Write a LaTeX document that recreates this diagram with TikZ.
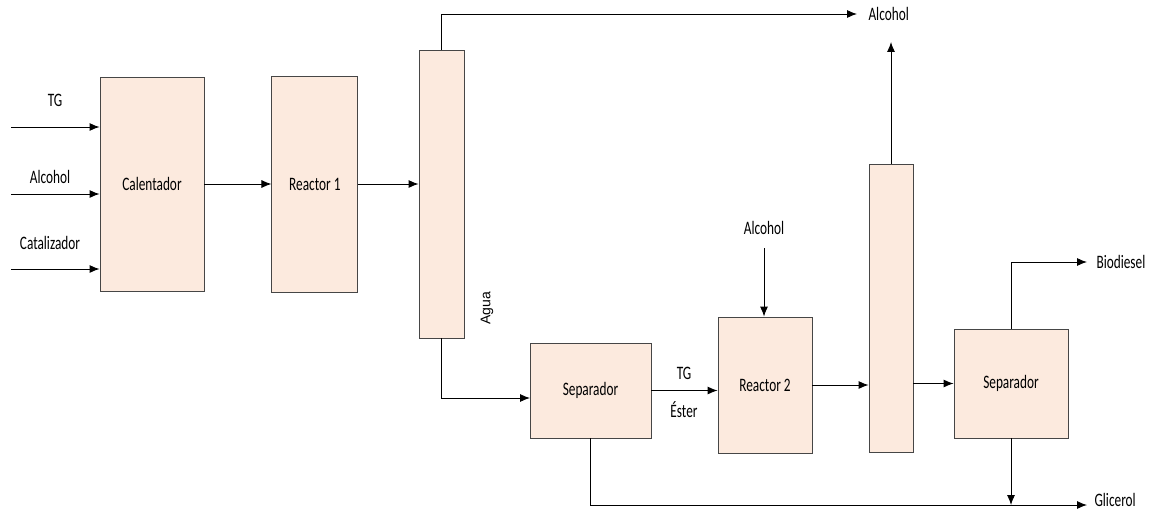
\documentclass[tikz,border=0pt]{standalone}
\usepackage{fontspec}
\setmainfont{Carlito}[FakeStretch=0.7]
\newfontfamily\aguafont{Liberation Sans}
\usepackage{tikz}
\usetikzlibrary{arrows.meta,positioning}
\definecolor{unitfill}{RGB}{252,234,222}
\definecolor{unitline}{RGB}{70,70,70}

\begin{document}
\begin{tikzpicture}[x=1pt, y=-1pt, font=\fontsize{19}{22}\selectfont,
    unit/.style={draw=unitline, fill=unitfill, rectangle, inner sep=0pt, line width=0.9pt},
    flow/.style={-{Latex[length=10pt,width=8pt]}, line width=0.9pt}]
                    \useasboundingbox (0,0) rectangle (1155,511);
                    % units
                    \node[unit, minimum width=104pt, minimum height=214pt] (calentador) at (152,184) {Calentador};
                    \node[unit, minimum width=86pt, minimum height=216pt, right=67pt of calentador] (reactor1) {Reactor 1};
                    \node[unit, minimum width=45pt, minimum height=288pt] (columna1) at (441.5,194) {};
                    \node[unit, minimum width=121pt, minimum height=95pt] (separador1) at (590.5,390.5) {Separador};
                    \node[unit, minimum width=94pt, minimum height=136pt] (reactor2) at (765,385) {Reactor 2};
                    \node[unit, minimum width=44pt, minimum height=288pt] (columna2) at (891,308) {};
                    \node[unit, minimum width=114pt, minimum height=109pt] (separador2) at (1011,383.5) {Separador};
                    
                    % feeds
                    \coordinate (inTG) at (11,127);
                    \coordinate (inAlc) at (11,194);
                    \coordinate (inCat) at (11,269);
                    \node (lblTG) at (55,100) {TG};
                    \node (lblAlc) at (50,177) {Alcohol};
                    \node (lblCat) at (50,243) {Catalizador};
                    \draw[flow] (inTG) -- (inTG -| calentador.west);
                    \draw[flow] (inAlc) -- (inAlc -| calentador.west);
                    \draw[flow] (inCat) -- (inCat -| calentador.west);
                    
                    \draw[flow] (calentador.east) -- (reactor1.west);
                    \draw[flow] (reactor1.east) -- (reactor1.east -| columna1.west);
                    
                    % column 1
                    \coordinate (alcTop) at (857,14);
                    \node[right=8pt of alcTop] (lblAlcTop) {Alcohol};
                    \draw[flow] (columna1.north) |- (alcTop);
                    \coordinate (sepIn) at (530,398);
                    \draw[flow] (columna1.south) |- (sepIn);
                    \node[rotate=90, font=\aguafont\fontsize{14}{16}\selectfont] (agua) at (487,308) {Agua};
                    
                    % second stage
                    \node (lblTGb) at (684,373) {TG};
                    \node (lblEster) at (684,410) {Éster};
                    \draw[flow] (separador1.east) -- (separador1.east -| reactor2.west);
                    \coordinate (alcIn) at (764,248);
                    \node (lblAlcIn) at (764,228) {Alcohol};
                    \draw[flow] (alcIn) -- (alcIn |- reactor2.north);
                    \draw[flow] (reactor2.east) -- (reactor2.east -| columna2.west);
                    \coordinate (alcOut) at (891,42);
                    \draw[flow] (columna2.north) -- (alcOut);
                    \draw[flow] (columna2.east |- separador2.west) -- (separador2.west);
                    
                    % products
                    \coordinate (bio) at (1087,262);
                    \node[right=6pt of bio] (lblBio) {Biodiesel};
                    \draw[flow] (separador2.north) |- (bio);
                    \coordinate (glic) at (1087,505);
                    \node[right=4pt of glic, yshift=5pt] (lblGlic) {Glicerol};
                    \draw[flow] (separador1.south) |- (glic);
                    \draw[flow] (separador2.south) -- (separador2.south |- glic);
                \end{tikzpicture}
\end{document}
